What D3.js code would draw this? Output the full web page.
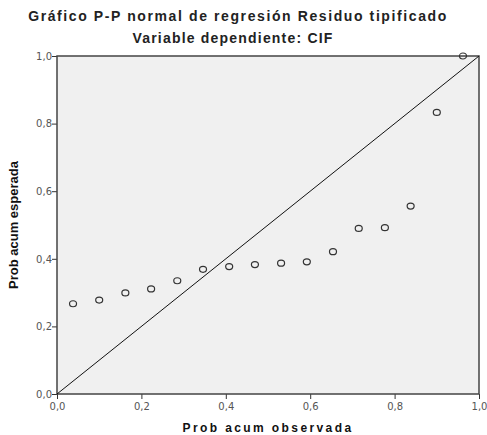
<!DOCTYPE html>
<html>
<head>
<meta charset="utf-8">
<script src="https://cdn.jsdelivr.net/npm/d3@7"></script>
<style>
  body { margin: 0; background: #fff; }
  text { font-family: "Liberation Sans", Arial, sans-serif; }
</style>
</head>
<body>
<svg id="chart" width="487" height="435"></svg>
<script>
// Valori
const probObservada = [0.038, 0.100, 0.162, 0.223, 0.285, 0.346, 0.408, 0.469, 0.531, 0.592, 0.654, 0.715, 0.777, 0.838, 0.900, 0.962];
const probEsperada = [0.267, 0.278, 0.299, 0.311, 0.335, 0.369, 0.377, 0.383, 0.387, 0.391, 0.421, 0.490, 0.492, 0.556, 0.833, 1.000];
const ticks = [0, 0.2, 0.4, 0.6, 0.8, 1.0];

const margin = { top: 56, right: 8, bottom: 41, left: 57 };
const width = 487 - margin.left - margin.right;
const height = 435 - margin.top - margin.bottom;

const svg = d3.select('#chart');

// Titoli
svg.append('text')
  .attr('x', 238).attr('y', 21)
  .attr('text-anchor', 'middle')
  .style('font-size', '14px').style('font-weight', 'bold').style('letter-spacing', '1.6px').style('fill', '#222')
  .text('Gráfico P-P normal de regresión Residuo tipificado');

svg.append('text')
  .attr('x', 233).attr('y', 43)
  .attr('text-anchor', 'middle')
  .style('font-size', '14px').style('font-weight', 'bold').style('letter-spacing', '1.2px').style('fill', '#222')
  .text('Variable dependiente: CIF');

const g = svg.append('g')
  .attr('transform', 'translate(' + margin.left + ',' + margin.top + ')');

const x = d3.scaleLinear().domain([0, 1]).range([0, width]);
const y = d3.scaleLinear().domain([0, 1]).range([height, 0]);

// Sfondo area del grafico
g.append('rect')
  .attr('width', width).attr('height', height)
  .attr('fill', '#f0f0f0');

const fmt = d => d3.format('.1f')(d).replace('.', ',');

// Assi
const xAxis = g.append('g')
  .attr('transform', 'translate(0,' + height + ')')
  .call(d3.axisBottom(x).tickValues(ticks).tickFormat(fmt).tickSize(5).tickSizeOuter(0));
const yAxis = g.append('g')
  .call(d3.axisLeft(y).tickValues(ticks).tickFormat(fmt).tickSize(5).tickSizeOuter(0));

[xAxis, yAxis].forEach(a => {
  a.select('.domain').remove();
  a.selectAll('line').attr('stroke', '#333');
  a.selectAll('text')
    .style('font-size', '10px').style('fill', '#555')
    .style('font-family', '"DejaVu Sans", sans-serif');
});
xAxis.selectAll('text').attr('dy', '0.75em').attr('y', 8);
yAxis.selectAll('text').attr('x', -5);

// Cornice
g.append('rect')
  .attr('width', width).attr('height', height)
  .attr('fill', 'none').attr('stroke', '#444').attr('stroke-width', 1.5);

// Diagonale di riferimento
g.append('line')
  .attr('x1', x(0)).attr('y1', y(0))
  .attr('x2', x(1)).attr('y2', y(1))
  .attr('stroke', '#111').attr('stroke-width', 1);

// Punti
g.selectAll('ellipse.pt')
  .data(probObservada)
  .enter()
  .append('ellipse')
  .attr('class', 'pt')
  .attr('cx', d => x(d))
  .attr('cy', (d, i) => y(probEsperada[i]))
  .attr('rx', 3.5).attr('ry', 3)
  .attr('fill', 'none').attr('stroke', '#333').attr('stroke-width', 1.2);

// Etichette degli assi
svg.append('text')
  .attr('x', margin.left + width / 2).attr('y', 432)
  .attr('text-anchor', 'middle')
  .style('font-size', '12px').style('font-weight', 'bold').style('letter-spacing', '2.4px').style('fill', '#111')
  .text('Prob acum observada');

svg.append('text')
  .attr('transform', 'translate(18,' + (margin.top + height / 2) + ') rotate(-90)')
  .attr('text-anchor', 'middle')
  .style('font-size', '13px').style('font-weight', 'bold').style('fill', '#111')
  .text('Prob acum esperada');
</script>
</body>
</html>
